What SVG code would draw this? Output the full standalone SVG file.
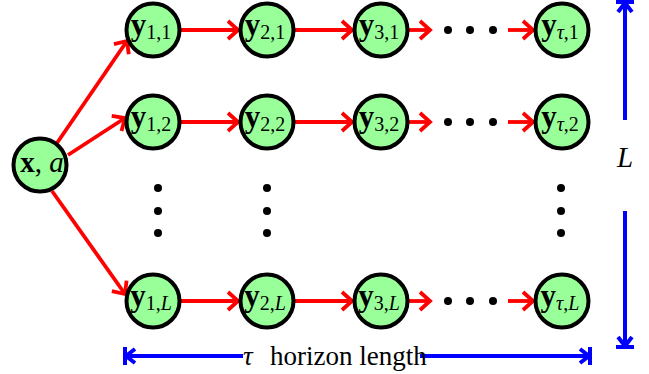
<svg xmlns="http://www.w3.org/2000/svg" width="649" height="374" viewBox="0 0 649 374">
<style>
.node{fill:#99ff99;stroke:#000;stroke-width:4}
.lbl{font-family:'Liberation Serif','Times New Roman','DejaVu Serif',serif;font-size:29px;fill:#000}
.b{font-weight:bold;font-size:31px}
.sub{font-size:20px}
.it{font-style:italic}
.red{stroke:#ff0000;stroke-width:3.8;fill:none}
.blue{stroke:#0000ff;stroke-width:4;fill:none}
.dot{fill:#000}
</style>
<defs>
<marker id="ra" markerUnits="userSpaceOnUse" orient="auto" markerWidth="24" markerHeight="24" refX="0" refY="0" viewBox="-14 -12 16 24" overflow="visible">
<path d="M-10,-9 L0,0 L-10,9" fill="none" stroke="#ff0000" stroke-width="3.8"/>
</marker>
<marker id="ba" markerUnits="userSpaceOnUse" orient="auto" markerWidth="20" markerHeight="24" refX="0" refY="0" viewBox="-12 -12 16 24" overflow="visible">
<path d="M-9,-7 L0,0 L-9,7" fill="none" stroke="#0000ff" stroke-width="4"/>
<path d="M1,-9 L1,9" fill="none" stroke="#0000ff" stroke-width="4"/>
</marker>
</defs>

<g id="connectors">
<line class="red" x1="57" y1="143" x2="127" y2="41" marker-end="url(#ra)"/>
<line class="red" x1="68" y1="155" x2="125" y2="118" marker-end="url(#ra)"/>
<line class="red" x1="52" y1="191" x2="125" y2="294" marker-end="url(#ra)"/>

<line class="red" x1="181" y1="30" x2="238" y2="30" marker-end="url(#ra)"/>
<line class="red" x1="295" y1="30" x2="352" y2="30" marker-end="url(#ra)"/>
<line class="red" x1="409" y1="30" x2="430" y2="30" marker-end="url(#ra)"/>
<line class="red" x1="508" y1="30" x2="533" y2="30" marker-end="url(#ra)"/>

<line class="red" x1="181" y1="122" x2="238" y2="122" marker-end="url(#ra)"/>
<line class="red" x1="295" y1="122" x2="352" y2="122" marker-end="url(#ra)"/>
<line class="red" x1="409" y1="122" x2="430" y2="122" marker-end="url(#ra)"/>
<line class="red" x1="508" y1="122" x2="533" y2="122" marker-end="url(#ra)"/>

<line class="red" x1="181" y1="301" x2="238" y2="301" marker-end="url(#ra)"/>
<line class="red" x1="295" y1="301" x2="352" y2="301" marker-end="url(#ra)"/>
<line class="red" x1="409" y1="301" x2="430" y2="301" marker-end="url(#ra)"/>
<line class="red" x1="508" y1="301" x2="533" y2="301" marker-end="url(#ra)"/>

<line class="blue" x1="625" y1="120" x2="625" y2="3" marker-end="url(#ba)"/>
<line class="blue" x1="625" y1="211" x2="625" y2="346" marker-end="url(#ba)"/>
<line class="blue" x1="243" y1="356" x2="126" y2="356" marker-end="url(#ba)"/>
<line class="blue" x1="420" y1="356" x2="589" y2="356" marker-end="url(#ba)"/>
</g>

<g id="dots">
<circle class="dot" cx="448" cy="30" r="4"/><circle class="dot" cx="470" cy="30" r="4"/><circle class="dot" cx="493" cy="30" r="4"/>
<circle class="dot" cx="448" cy="122" r="4"/><circle class="dot" cx="470" cy="122" r="4"/><circle class="dot" cx="493" cy="122" r="4"/>
<circle class="dot" cx="448" cy="301" r="4"/><circle class="dot" cx="470" cy="301" r="4"/><circle class="dot" cx="493" cy="301" r="4"/>
<circle class="dot" cx="158" cy="188" r="4"/><circle class="dot" cx="158" cy="211" r="4"/><circle class="dot" cx="158" cy="233" r="4"/>
<circle class="dot" cx="267" cy="188" r="4"/><circle class="dot" cx="267" cy="211" r="4"/><circle class="dot" cx="267" cy="233" r="4"/>
<circle class="dot" cx="561" cy="188" r="4"/><circle class="dot" cx="561" cy="211" r="4"/><circle class="dot" cx="561" cy="233" r="4"/>
</g>

<g id="x_a"><circle class="node" cx="40" cy="165" r="26.5"/><text class="lbl" x="42" y="172" text-anchor="middle"><tspan class="b" style="font-size:29px">x</tspan>, <tspan class="it">a</tspan></text></g>

<g id="y11"><circle class="node" cx="153" cy="30" r="26.5"/><text class="lbl" x="151" y="35" text-anchor="middle"><tspan class="b">y</tspan><tspan class="sub" dy="4">1,1</tspan></text></g>
<g id="y21"><circle class="node" cx="267" cy="30" r="26.5"/><text class="lbl" x="265" y="35" text-anchor="middle"><tspan class="b">y</tspan><tspan class="sub" dy="4">2,1</tspan></text></g>
<g id="y31"><circle class="node" cx="381" cy="30" r="26.5"/><text class="lbl" x="379" y="35" text-anchor="middle"><tspan class="b">y</tspan><tspan class="sub" dy="4">3,1</tspan></text></g>
<g id="yt1"><circle class="node" cx="562" cy="30" r="26.5"/><text class="lbl" x="560" y="35" text-anchor="middle"><tspan class="b">y</tspan><tspan class="sub" dy="4"><tspan class="it">τ</tspan>,1</tspan></text></g>

<g id="y12"><circle class="node" cx="153" cy="122" r="26.5"/><text class="lbl" x="151" y="127" text-anchor="middle"><tspan class="b">y</tspan><tspan class="sub" dy="4">1,2</tspan></text></g>
<g id="y22"><circle class="node" cx="267" cy="122" r="26.5"/><text class="lbl" x="265" y="127" text-anchor="middle"><tspan class="b">y</tspan><tspan class="sub" dy="4">2,2</tspan></text></g>
<g id="y32"><circle class="node" cx="381" cy="122" r="26.5"/><text class="lbl" x="379" y="127" text-anchor="middle"><tspan class="b">y</tspan><tspan class="sub" dy="4">3,2</tspan></text></g>
<g id="yt2"><circle class="node" cx="562" cy="122" r="26.5"/><text class="lbl" x="560" y="127" text-anchor="middle"><tspan class="b">y</tspan><tspan class="sub" dy="4"><tspan class="it">τ</tspan>,2</tspan></text></g>

<g id="y1L"><circle class="node" cx="153" cy="301" r="26.5"/><text class="lbl" x="151" y="306" text-anchor="middle"><tspan class="b">y</tspan><tspan class="sub" dy="4">1,<tspan class="it">L</tspan></tspan></text></g>
<g id="y2L"><circle class="node" cx="267" cy="301" r="26.5"/><text class="lbl" x="265" y="306" text-anchor="middle"><tspan class="b">y</tspan><tspan class="sub" dy="4">2,<tspan class="it">L</tspan></tspan></text></g>
<g id="y3L"><circle class="node" cx="381" cy="301" r="26.5"/><text class="lbl" x="379" y="306" text-anchor="middle"><tspan class="b">y</tspan><tspan class="sub" dy="4">3,<tspan class="it">L</tspan></tspan></text></g>
<g id="ytL"><circle class="node" cx="562" cy="301" r="26.5"/><text class="lbl" x="560" y="306" text-anchor="middle"><tspan class="b">y</tspan><tspan class="sub" dy="4"><tspan class="it">τ</tspan>,<tspan class="it">L</tspan></tspan></text></g>

<g id="labels">
<text class="lbl it" x="625" y="167" text-anchor="middle">L</text>
<text class="lbl" x="243" y="365" style="font-size:27px"><tspan class="it">τ</tspan><tspan x="270">horizon length</tspan></text>
</g>
</svg>
